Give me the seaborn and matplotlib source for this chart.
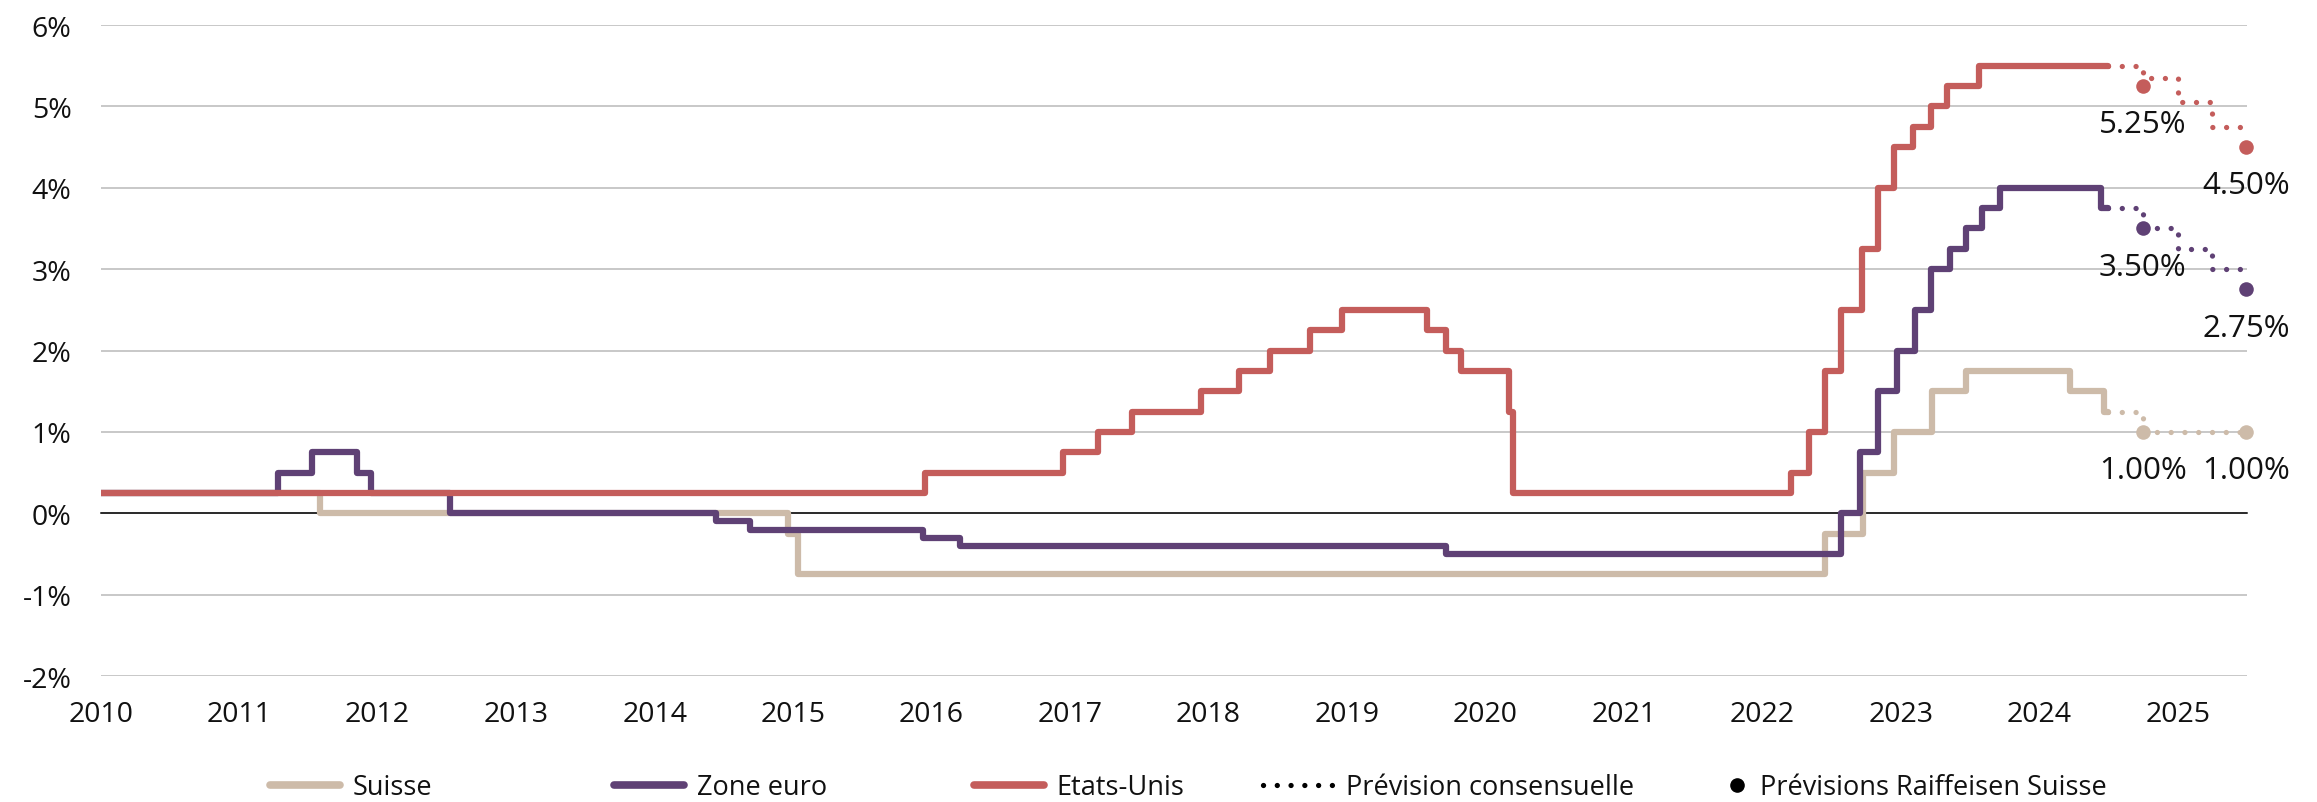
import pandas as pd
import numpy as np
import matplotlib.pyplot as plt
import matplotlib.dates as mdates
from matplotlib.lines import Line2D
import seaborn as sns

# policy rates, value valid from each date on (steps)
ch_dates = ['2010-01-01', '2011-08-03', '2014-12-18', '2015-01-15', '2022-06-16', '2022-09-22',
            '2022-12-15', '2023-03-23', '2023-06-22', '2024-03-21', '2024-06-20', '2024-06-30']
ch_rates = [0.25, 0.0, -0.25, -0.75, -0.25, 0.5, 1.0, 1.5, 1.75, 1.5, 1.25, 1.25]

eu_dates = ['2010-01-01', '2011-04-13', '2011-07-13', '2011-11-09', '2011-12-14', '2012-07-11',
            '2014-06-11', '2014-09-10', '2015-12-09', '2016-03-16', '2019-09-18', '2022-07-27',
            '2022-09-14', '2022-11-02', '2022-12-21', '2023-02-08', '2023-03-22', '2023-05-10',
            '2023-06-21', '2023-08-02', '2023-09-20', '2024-06-12', '2024-06-30']
eu_rates = [0.25, 0.5, 0.75, 0.5, 0.25, 0.0, -0.1, -0.2, -0.3, -0.4, -0.5, 0.0,
            0.75, 1.5, 2.0, 2.5, 3.0, 3.25, 3.5, 3.75, 4.0, 3.75, 3.75]

us_dates = ['2010-01-01', '2015-12-16', '2016-12-14', '2017-03-15', '2017-06-14', '2017-12-13',
            '2018-03-21', '2018-06-13', '2018-09-26', '2018-12-19', '2019-07-31', '2019-09-18',
            '2019-10-30', '2020-03-03', '2020-03-15', '2022-03-16', '2022-05-04', '2022-06-15',
            '2022-07-27', '2022-09-21', '2022-11-02', '2022-12-14', '2023-02-01', '2023-03-22',
            '2023-05-03', '2023-07-26', '2024-06-30']
us_rates = [0.25, 0.5, 0.75, 1.0, 1.25, 1.5, 1.75, 2.0, 2.25, 2.5, 2.25, 2.0,
            1.75, 1.25, 0.25, 0.5, 1.0, 1.75, 2.5, 3.25, 4.0, 4.5, 4.75, 5.0,
            5.25, 5.5, 5.5]

# consensus forecast (quarterly)
cons_dates = ['2024-06-30', '2024-09-30', '2024-12-31', '2025-03-31', '2025-06-30']
cons_ch = [1.25, 1.0, 1.0, 1.0, 1.0]
cons_eu = [3.75, 3.5, 3.25, 3.0, 3.0]
cons_us = [5.5, 5.35, 5.05, 4.75, 4.75]

# Raiffeisen forecasts
rf_dates = ['2024-09-30', '2025-06-30']
rf_ch = [1.0, 1.0]
rf_eu = [3.5, 2.75]
rf_us = [5.25, 4.5]

names = ['Suisse', 'Zone euro', 'Etats-Unis']
colors = ['#CDBBA9', '#5F4175', '#C45D5B']
y_ticks = [-2, -1, 0, 1, 2, 3, 4, 5, 6]

sns.set_theme(style='white')
plt.rcParams['font.family'] = ['Open Sans', 'DejaVu Sans']
plt.rcParams['text.color'] = '#111111'

fig = plt.figure(figsize=(23.17, 8.03), dpi=100)
ax = fig.add_axes([0.04346, 0.1569, 0.9262, 0.8107])

hist = [(ch_dates, ch_rates), (eu_dates, eu_rates), (us_dates, us_rates)]
cons = [cons_ch, cons_eu, cons_us]
rf = [rf_ch, rf_eu, rf_us]

dots = (0, (0.01, 2.6))

for (d, r), c in zip(hist, colors):
    df = pd.DataFrame({'date': pd.to_datetime(d), 'rate': r})
    sns.lineplot(data=df, x='date', y='rate', drawstyle='steps-post', color=c, linewidth=4.5,
                 solid_capstyle='round', solid_joinstyle='round', ax=ax, zorder=3)

for vals, c in zip(cons, colors):
    df = pd.DataFrame({'date': pd.to_datetime(cons_dates), 'rate': vals})
    sns.lineplot(data=df, x='date', y='rate', drawstyle='steps-post', color=c, linewidth=3.8,
                 linestyle=dots, dash_capstyle='round', ax=ax, zorder=3)

for vals, c in zip(rf, colors):
    df = pd.DataFrame({'date': pd.to_datetime(rf_dates), 'rate': vals})
    sns.scatterplot(data=df, x='date', y='rate', color=c, s=110, linewidth=0, ax=ax,
                    zorder=4, clip_on=False)
    for d, v in zip(df['date'], vals):
        ax.text(d, v - 0.47, f'{v:.2f}%', ha='center', va='center', fontsize=22.5)

ax.set_xlim(pd.Timestamp('2010-01-01'), pd.Timestamp('2025-07-01'))
ax.set_ylim(-2, 6)
ax.set_xlabel('')
ax.set_ylabel('')

ax.set_yticks(y_ticks)
ax.set_yticklabels([f'{t}%' for t in y_ticks])
ax.yaxis.grid(True, color='#C8C8C8', lw=1.4)
ax.xaxis.grid(False)
ax.set_axisbelow(True)

for s in ['top', 'right', 'left']:
    ax.spines[s].set_visible(False)
ax.spines['bottom'].set_position(('data', 0))
ax.spines['bottom'].set_color('black')
ax.spines['bottom'].set_linewidth(1.1)
ax.spines['bottom'].set_zorder(2)

ax.xaxis.set_major_locator(mdates.YearLocator())
ax.xaxis.set_major_formatter(mdates.DateFormatter('%Y'))
ax.tick_params(axis='x', direction='out', length=6.5, width=1.1, color='black',
               pad=128, labelsize=20.5, labelcolor='#111111')
ax.tick_params(axis='y', length=0, pad=21, labelsize=20.5, labelcolor='#111111')

# legend: one small legend per entry, placed along the bottom
handles = [Line2D([], [], color=c, lw=5.5, solid_capstyle='round') for c in colors]
handles.append(Line2D([], [], color='black', lw=3.8, linestyle=dots, dash_capstyle='round'))
handles.append(Line2D([], [], color='black', lw=0, marker='o', markersize=9.5))
labels = names + ['Prévision consensuelle', 'Prévisions Raiffeisen Suisse']
leg_x = [270, 614, 974, 1263, 1726]
leg_len = [2.6, 2.6, 2.6, 2.6, 0.8]
for h, lab, x0, hl in zip(handles, labels, leg_x, leg_len):
    fig.legend([h], [lab], loc='center left', bbox_to_anchor=(x0 / 2317, 0.0187),
               frameon=False, fontsize=19.5, handlelength=hl, handletextpad=0.45,
               borderpad=0, borderaxespad=0)

fig.savefig('out.png', dpi=100)
